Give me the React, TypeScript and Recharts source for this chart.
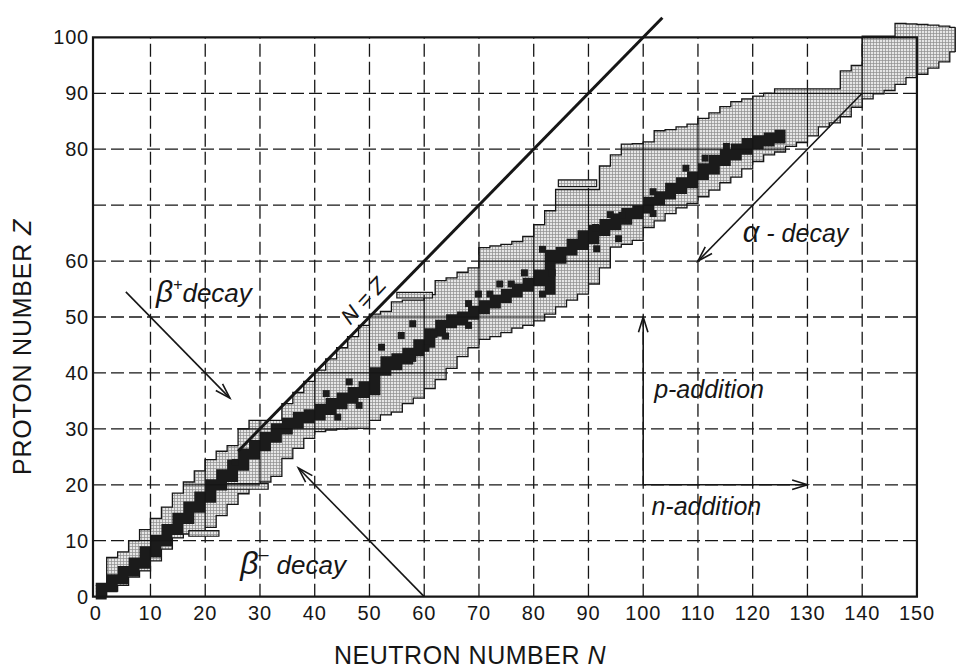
import React from "react";
import {
  ComposedChart,
  Area,
  Scatter,
  XAxis,
  YAxis,
  ReferenceLine,
  ReferenceArea,
  ReferenceDot,
} from "recharts";

/* ─── Chart of nuclides ─── */

// neutron number at each step of the band outline
const NEUTRONS = [
  0, 2, 4, 6, 8, 10, 12, 14, 16, 18, 20, 22, 24, 26, 28, 30, 32, 34, 36, 38, 40, 42, 44, 46, 48, 50,
  52, 54, 56, 58, 60, 62, 64, 66, 68, 70, 72, 74, 76, 78, 80, 82, 84, 86, 88, 90, 92, 94, 96, 98,
  100, 102, 104, 106, 108, 110, 112, 114, 116, 118, 120, 122, 124, 126, 128, 130, 132, 134, 136,
  138, 140, 142, 144, 146, 148, 150, 152, 154, 156, 157,
];

// upper (proton-rich) edge of the known nuclides
const BAND_TOP = [
  2, 7, 8, 10, 12, 14, 16, 18.5, 20.5, 22.5,
  24.5, 26, 27, 30, 31.5, 31.5, 31.5, 34.5, 36.5, 38.5,
  40.5, 42.5, 44.5, 46.5, 48.5, 50.5, 51, 52.7, 53, 53,
  54, 56.5, 57, 58, 58.8, 62.4, 62.7, 63, 63.5, 64.4,
  66.5, 69, 72.8, 72.8, 72.8, 72.8, 77, 79, 80.9, 81,
  81.3, 83.3, 83.5, 84, 84.5, 85.5, 86.5, 87.6, 88.5, 89,
  89.5, 90, 90.8, 90.8, 90.8, 90.8, 90.8, 90.8, 94, 95,
  100.2, 100.2, 100.2, 102.5, 102.4, 102.3, 102.2, 102, 101.8, 101.8,
];

// lower (neutron-rich) edge of the known nuclides
const BAND_BOTTOM = [
  0, 1, 2, 3.5, 4.6, 6.4, 8.5, 10.5, 11.2, 11.5,
  12.4, 14.5, 16.5, 18.4, 19.5, 20.5, 21.5, 24.7, 26.5, 28.3,
  29.5, 29.8, 30, 30.1, 30.1, 31.5, 32.5, 33, 34.5, 35.5,
  37.2, 38.8, 40.8, 42.9, 44.5, 46, 46.5, 47.2, 48, 48.5,
  49.3, 50.5, 51.8, 53, 54.1, 55.9, 58.8, 62.5, 63, 63.7,
  66, 67.2, 68.5, 69.5, 70.3, 71.5, 72.7, 74, 75, 76.5,
  77.8, 79, 79.5, 80.5, 81.2, 82.4, 84, 84.7, 85.8, 87.5,
  89, 89.9, 90.5, 91.6, 92.8, 93.4, 94.5, 95.6, 97.4, 97.4,
];

// stable nuclei (dark valley), N = 0 … 126
const STABLE_TOP = [
  2.5, 4, 5.5, 7, 9, 11, 13, 15, 17, 18.8,
  21, 22.8, 24.5, 26.5, 28, 29.5, 31, 32, 33, 33.5,
  34.5, 35.5, 36.5, 37.5, 38.5, 41, 43, 43.5, 44.5, 46,
  48, 49.5, 50.5, 51, 52, 53, 54, 55, 56, 57,
  58.5, 62, 62.5, 64, 65.5, 66.5, 67.5, 68.5, 69.5, 70,
  71.5, 72.5, 74, 75, 76, 77.5, 79, 80, 81, 82,
  82.5, 83, 83.5, 83.5,
];
const STABLE_BOTTOM = [
  -0.5, 0.8, 2.2, 3.6, 5, 7, 9, 11, 13, 15,
  16.8, 19, 20.5, 22.5, 24.5, 26, 27.5, 29, 30, 31,
  31.5, 32.5, 33.5, 34.5, 35.5, 36, 39.5, 40.5, 41.5, 43,
  44.5, 46.5, 48, 48.5, 49.5, 50.5, 51.5, 52.5, 53.5, 54.5,
  55.5, 54, 59.5, 61, 62, 63, 64.5, 65.5, 66.5, 67.5,
  68.5, 70, 71, 72, 73, 74.5, 75.5, 77, 78, 79,
  80, 80.5, 81, 81,
];

// isolated long-lived nuclides (small black squares)
const LONG_LIVED_N = [
  25.5, 44.2, 48.1, 42.1, 46.3, 52.2, 55.8, 57.9, 57.9, 61.8, 63.9, 60.3, 68.1, 68.1, 69.9, 72,
  73.8, 75.9, 78.3, 81.6, 83.4, 81.6, 91.5, 91.3, 94, 96.1, 95.5, 101.8, 101.8, 107.8, 111.3, 115.2,
];
const LONG_LIVED_Z = [
  24, 32.1, 34.2, 36.3, 38.4, 44.6, 46.7, 48.8, 42.6, 46.9, 46.6, 44.4, 48.5, 52.4, 54.1, 54.1,
  55.9, 55.9, 57.9, 54.1, 57.9, 62.1, 62.2, 66, 68.3, 68.2, 64, 72.4, 68.5, 76.6, 78.4, 80.5,
];

// thin isotope strips sticking out of the band: [N from, N to, Z from, Z to]
const STRIPS = [
  [17, 22.5, 10.8, 11.8],
  [22, 31.5, 19.2, 20.2],
  [55, 61.5, 53.4, 54.4],
  [84.5, 91.5, 73.3, 74.5],
];

// decay / addition arrows: [N start, Z start, N tip, Z tip]
const ARROWS = [
  [5.5, 54.5, 24.5, 35.5], // beta+
  [60, 0, 37, 23], // beta-
  [140, 90, 110, 60], // alpha
  [100, 20, 100, 50], // p-addition
  [100, 20, 130, 20], // n-addition
];

const X_TICKS = [0, 10, 20, 30, 40, 50, 60, 70, 80, 90, 100, 110, 120, 130, 140, 150];
const Y_TICKS = [0, 10, 20, 30, 40, 50, 60, 80, 90, 100];
const GRID_N = [10, 20, 30, 40, 50, 60, 70, 80, 90, 100, 110, 120, 130, 140];
const GRID_Z = [10, 20, 30, 40, 50, 60, 70, 80, 90];

/* ─── derived tables ─── */

const table = NEUTRONS.map((n, i) => ({
  n,
  band: [BAND_BOTTOM[i], BAND_TOP[i]],
  stable: i < STABLE_TOP.length ? [STABLE_BOTTOM[i], STABLE_TOP[i]] : null,
}));

const longLived = LONG_LIVED_N.map((n, i) => ({ n, z: LONG_LIVED_Z[i] }));

// grid lines print solid where they cross the shaded band
const solidV = GRID_N.map((k) => {
  const i = NEUTRONS.indexOf(k);
  return [k, BAND_BOTTOM[i], Math.min(BAND_TOP[i], 100)];
});
const solidH = GRID_Z.map((k) => {
  let from: number | null = null;
  let to: number | null = null;
  NEUTRONS.forEach((n, i) => {
    if (i < NEUTRONS.length - 1 && BAND_BOTTOM[i] <= k && BAND_TOP[i] >= k) {
      if (from === null) from = n;
      to = NEUTRONS[i + 1];
    }
  });
  return [k, from ?? 0, Math.min(to ?? 0, 150)];
});

const SANS = '"Liberation Sans", Arial, Helvetica, sans-serif';
const INK = "#161616";

function arrowShape(p: any) {
  const { x1, y1, x2, y2 } = p;
  const a = Math.atan2(y2 - y1, x2 - x1);
  const len = 16;
  const w = 0.3;
  const h1 = `${x2 - len * Math.cos(a - w)},${y2 - len * Math.sin(a - w)}`;
  const h2 = `${x2 - len * Math.cos(a + w)},${y2 - len * Math.sin(a + w)}`;
  return (
    <g>
      <line x1={x1} y1={y1} x2={x2} y2={y2} stroke={INK} strokeWidth={1.6} />
      <polyline points={`${h1} ${x2},${y2} ${h2}`} fill="none" stroke={INK} strokeWidth={1.6} />
    </g>
  );
}

const noteStyle = { fontFamily: SANS, fontStyle: "italic" as const, fill: INK };
const tickStyle = { fontSize: 20, fill: INK, fontFamily: SANS, letterSpacing: 0.8 };

export default function App() {
  return (
    <div style={{ position: "absolute", left: 0, top: 0, width: 959, height: 672, background: "#fff" }}>
      <ComposedChart
        width={959}
        height={672}
        data={table}
        margin={{ top: 1, right: 1, bottom: 0, left: 0 }}
      >
        <defs>
          <pattern id="mesh" width={3} height={3} patternUnits="userSpaceOnUse">
            <rect width={3} height={3} fill="#e6e6e6" />
            <path d="M0 0.5H3M0.5 0V3" stroke="#8e8e8e" strokeWidth={0.7} />
          </pattern>
        </defs>

        <XAxis
          type="number"
          dataKey="n"
          domain={[-0.5, 157.5]}
          allowDataOverflow
          ticks={X_TICKS}
          interval={0}
          height={72}
          axisLine={false}
          tickLine={false}
          tickSize={4}
          tickMargin={2}
          tick={tickStyle}
        />
        <YAxis
          type="number"
          dataKey="z"
          domain={[-0.6, 106.5]}
          allowDataOverflow
          ticks={Y_TICKS}
          interval={0}
          width={93}
          axisLine={false}
          tickLine={false}
          tickSize={4}
          tickMargin={0}
          tick={tickStyle}
        />

        {/* dashed grid */}
        {GRID_N.map((k) => (
          <ReferenceLine
            key={`gv${k}`}
            segment={[{ x: k, y: 0 }, { x: k, y: 100 }]}
            stroke={INK}
            strokeWidth={1.3}
            strokeDasharray="13 5"
            zIndex={10}
          />
        ))}
        {GRID_Z.map((k) => (
          <ReferenceLine
            key={`gh${k}`}
            segment={[{ x: -0.5, y: k }, { x: 150, y: k }]}
            stroke={INK}
            strokeWidth={1.3}
            strokeDasharray="13 5"
            zIndex={10}
          />
        ))}

        {/* known nuclides */}
        <Area
          dataKey="band"
          type="stepAfter"
          stroke={INK}
          strokeWidth={1.3}
          fill="url(#mesh)"
          fillOpacity={1}
          dot={false}
          activeDot={false}
          isAnimationActive={false}
          zIndex={20}
        />
        {STRIPS.map(([n1, n2, z1, z2], i) => (
          <ReferenceArea
            key={`s${i}`}
            x1={n1}
            x2={n2}
            y1={z1}
            y2={z2}
            fill="url(#mesh)"
            fillOpacity={1}
            stroke={INK}
            strokeWidth={1.2}
            zIndex={25}
          />
        ))}
        <ReferenceLine
          segment={[{ x: 157, y: BAND_BOTTOM[BAND_BOTTOM.length - 1] }, { x: 157, y: BAND_TOP[BAND_TOP.length - 1] }]}
          stroke={INK}
          strokeWidth={1.3}
          zIndex={25}
        />

        {/* stable valley */}
        <Area
          dataKey="stable"
          type="stepAfter"
          stroke="none"
          fill="#1b1b1b"
          fillOpacity={1}
          dot={false}
          activeDot={false}
          isAnimationActive={false}
          zIndex={30}
        />
        <Scatter
          data={longLived}
          isAnimationActive={false}
          zIndex={35}
          shape={(p: any) => <rect x={p.cx - 3.5} y={p.cy - 3.5} width={7} height={7} fill="#1b1b1b" />}
        />

        {/* grid printed solid inside the band */}
        {solidV.map(([k, z1, z2]) => (
          <ReferenceLine key={`sv${k}`} segment={[{ x: k, y: z1 }, { x: k, y: z2 }]} stroke={INK} strokeWidth={1.2} zIndex={40} />
        ))}
        {solidH.map(([k, n1, n2]) =>
          n2 > n1 ? (
            <ReferenceLine key={`sh${k}`} segment={[{ x: n1, y: k }, { x: n2, y: k }]} stroke={INK} strokeWidth={1.2} zIndex={40} />
          ) : null
        )}

        {/* frame */}
        <ReferenceArea
          x1={-0.5}
          x2={150}
          y1={0}
          y2={100}
          fill="none"
          stroke={INK}
          strokeWidth={2.2}
          ifOverflow="visible"
          zIndex={50}
        />

        {/* N = Z */}
        <ReferenceLine
          segment={[{ x: 26, y: 26 }, { x: 103.5, y: 103.5 }]}
          stroke={INK}
          strokeWidth={3}
          zIndex={60}
        />
        {ARROWS.map(([n1, z1, n2, z2], i) => (
          <ReferenceLine
            key={`a${i}`}
            segment={[{ x: n1, y: z1 }, { x: n2, y: z2 }]}
            shape={arrowShape}
            zIndex={60}
          />
        ))}

        {/* annotations */}
        <ReferenceDot
          x={11}
          y={52.7}
          r={0}
          zIndex={70}
          shape={(p: any) => (
            <text x={p.cx} y={p.cy} style={noteStyle} fontSize={26}>
              <tspan fontSize={30}>β</tspan>
              <tspan fontSize={16} dy={-12}>+</tspan>
              <tspan dy={12}>decay</tspan>
            </text>
          )}
        />
        <ReferenceDot
          x={26.4}
          y={4}
          r={0}
          zIndex={70}
          shape={(p: any) => (
            <text x={p.cx} y={p.cy} style={noteStyle} fontSize={26}>
              <tspan fontSize={32}>β</tspan>
              <tspan fontSize={18} dy={-14}>–</tspan>
              <tspan dy={14} dx={8}>decay</tspan>
            </text>
          )}
        />
        <ReferenceDot
          x={118.2}
          y={63.4}
          r={0}
          zIndex={70}
          shape={(p: any) => (
            <text x={p.cx} y={p.cy} style={noteStyle} fontSize={25}>
              <tspan fontSize={29}>α</tspan> - decay
            </text>
          )}
        />
        <ReferenceDot
          x={102}
          y={35.5}
          r={0}
          zIndex={70}
          shape={(p: any) => (
            <text x={p.cx} y={p.cy} style={noteStyle} fontSize={25}>
              p-addition
            </text>
          )}
        />
        <ReferenceDot
          x={101.5}
          y={14.6}
          r={0}
          zIndex={70}
          shape={(p: any) => (
            <text x={p.cx} y={p.cy} style={noteStyle} fontSize={25}>
              n-addition
            </text>
          )}
        />
        <ReferenceDot
          x={48.9}
          y={52.9}
          r={0}
          zIndex={70}
          shape={(p: any) => (
            <text
              x={p.cx}
              y={p.cy}
              style={noteStyle}
              fontSize={22}
              textAnchor="middle"
              dominantBaseline="central"
              transform={`rotate(-47 ${p.cx} ${p.cy})`}
            >
              N = Z
            </text>
          )}
        />

        {/* axis titles */}
        <text x={470} y={664} textAnchor="middle" fontSize={25} fontFamily={SANS} fill={INK} letterSpacing={0.5}>
          NEUTRON NUMBER <tspan fontStyle="italic">N</tspan>
        </text>
        <text
          transform="translate(31 347) rotate(-90)"
          textAnchor="middle"
          fontSize={25}
          fontFamily={SANS}
          fill={INK}
          letterSpacing={0.8}
        >
          PROTON NUMBER <tspan fontStyle="italic">Z</tspan>
        </text>
      </ComposedChart>
    </div>
  );
}
